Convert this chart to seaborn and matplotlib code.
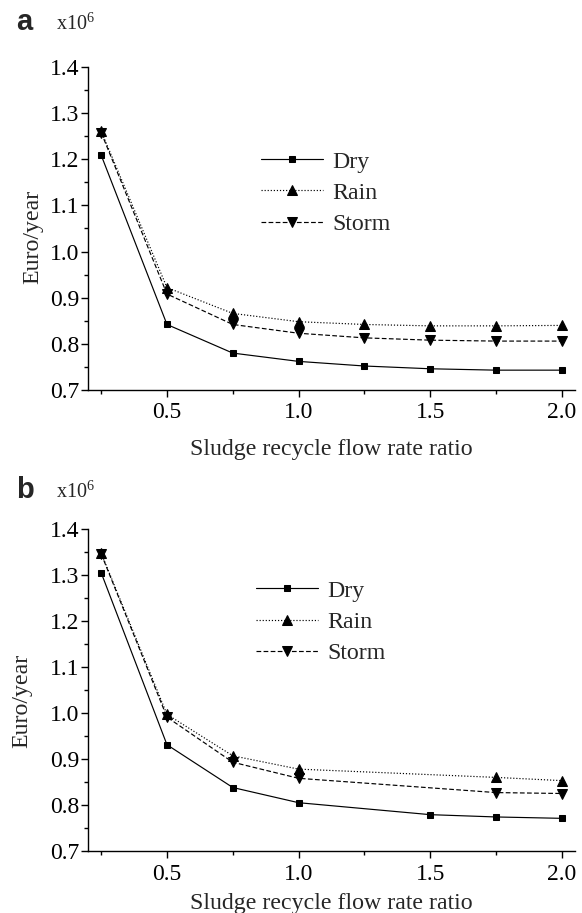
import numpy as np
import pandas as pd
import matplotlib
matplotlib.use("Agg")
import matplotlib.pyplot as plt
from matplotlib.ticker import MultipleLocator
import seaborn as sns

# ---- data ----
series = ["Dry", "Rain", "Storm"]

x_a = [0.25, 0.5, 0.75, 1.0, 1.25, 1.5, 1.75, 2.0]
dry_a = [1.209, 0.842, 0.780, 0.762, 0.752, 0.746, 0.743, 0.743]
rain_a = [1.261, 0.922, 0.866, 0.848, 0.842, 0.839, 0.839, 0.840]
storm_a = [1.258, 0.908, 0.842, 0.823, 0.813, 0.808, 0.806, 0.806]

x_b_dry = [0.25, 0.5, 0.75, 1.0, 1.5, 1.75, 2.0]
dry_b = [1.305, 0.931, 0.838, 0.805, 0.779, 0.774, 0.771]
x_b_wet = [0.25, 0.5, 0.75, 1.0, 1.75, 2.0]
rain_b = [1.348, 0.997, 0.907, 0.878, 0.860, 0.853]
storm_b = [1.346, 0.991, 0.893, 0.858, 0.827, 0.825]

x_ticks = [0.5, 1.0, 1.5, 2.0]
y_ticks = [0.7, 0.8, 0.9, 1.0, 1.1, 1.2, 1.3, 1.4]
panel_labels = ["a", "b"]
x_label = "Sludge recycle flow rate ratio"
y_label = "Euro/year"
scale_text = r"x10$^{6}$"


def long_df(xs, ys):
    frames = []
    for name, x, y in zip(series, xs, ys):
        frames.append(pd.DataFrame({"x": x, "y": y, "Series": name}))
    return pd.concat(frames, ignore_index=True)


df_a = long_df([x_a, x_a, x_a], [dry_a, rain_a, storm_a])
df_b = long_df([x_b_dry, x_b_wet, x_b_wet], [dry_b, rain_b, storm_b])

# ---- style ----
sns.set_style("ticks")
plt.rcParams["font.family"] = ["Liberation Serif", "DejaVu Serif"]
plt.rcParams["mathtext.fontset"] = "custom"
plt.rcParams["mathtext.rm"] = "Liberation Serif"
plt.rcParams["mathtext.it"] = "Liberation Serif"
plt.rcParams["axes.linewidth"] = 1.0
plt.rcParams["xtick.direction"] = "out"
plt.rcParams["ytick.direction"] = "out"

fig = plt.figure(figsize=(5.82, 9.13), dpi=100)
W, H = 582, 913

def axes_rect(left, right, top, bottom):
    return [left / W, 1 - bottom / H, (right - left) / W, (bottom - top) / H]

ax_a = fig.add_axes(axes_rect(88, 575, 67, 390))
ax_b = fig.add_axes(axes_rect(88, 575, 529, 851))

markers = {"Dry": "s", "Rain": "^", "Storm": "v"}
dashes = {"Dry": "", "Rain": (1, 1.6), "Storm": (4, 2)}
msizes = {"s": 5.0, "^": 6.5, "v": 6.5}

tick_fs = 17
label_fs = 17.2

for ax, df, lab, ypix, leg_xy, lpad, ylab_xy in [
    (ax_a, df_a, panel_labels[0], 22, (0.355, 0.61), 11, (-0.092, 0.474)),
    (ax_b, df_b, panel_labels[1], 490, (0.345, 0.711), 6, (-0.115, 0.466)),
]:
    sns.lineplot(data=df, x="x", y="y", style="Series", markers=markers,
                 dashes=dashes, color="black", linewidth=0.85,
                 estimator=None, errorbar=None, ax=ax, legend=False,
                 markeredgecolor="black", markerfacecolor="black")
    lines = ax.get_lines()[:3]
    for ln in lines:
        ln.set_markersize(msizes.get(ln.get_marker(), 6))
    ax.legend(lines, series, loc="center left", bbox_to_anchor=leg_xy,
              frameon=False, fontsize=label_fs, handlelength=2.6,
              handletextpad=0.4, labelspacing=0.4, borderpad=0,
              borderaxespad=0, numpoints=1)

    ax.set_xlim(0.2, 2.05)
    ax.set_ylim(0.7, 1.4)
    ax.set_xticks(x_ticks)
    ax.set_yticks(y_ticks)
    ax.xaxis.set_minor_locator(MultipleLocator(0.25))
    ax.yaxis.set_minor_locator(MultipleLocator(0.05))
    ax.tick_params(which="major", length=5, width=1.0, labelsize=tick_fs,
                   color="black", labelcolor="black")
    ax.tick_params(axis="y", which="major", pad=1.5)
    ax.tick_params(axis="x", which="major", pad=4)
    ax.tick_params(which="minor", length=3, width=1.0, color="black")
    ax.set_xticklabels([f"{v:.1f}" for v in x_ticks])
    ax.set_yticklabels([f"{v:.1f}" for v in y_ticks])
    ax.set_xlabel(x_label, fontsize=label_fs, labelpad=lpad)
    ax.set_ylabel(y_label, fontsize=label_fs)
    ax.yaxis.set_label_coords(*ylab_xy)
    for s in ["top", "right"]:
        ax.spines[s].set_visible(False)
    for s in ["left", "bottom"]:
        ax.spines[s].set_color("black")

    fig.text(16 / W, 1 - ypix / H, lab, fontsize=21, fontweight="bold",
             family=["Liberation Sans", "DejaVu Sans"], va="center", ha="left")
    fig.text(56 / W, 1 - (ypix + 2) / H, scale_text, fontsize=14.5,
             va="center", ha="left")

fig.savefig("out.png", dpi=100, facecolor="white")
